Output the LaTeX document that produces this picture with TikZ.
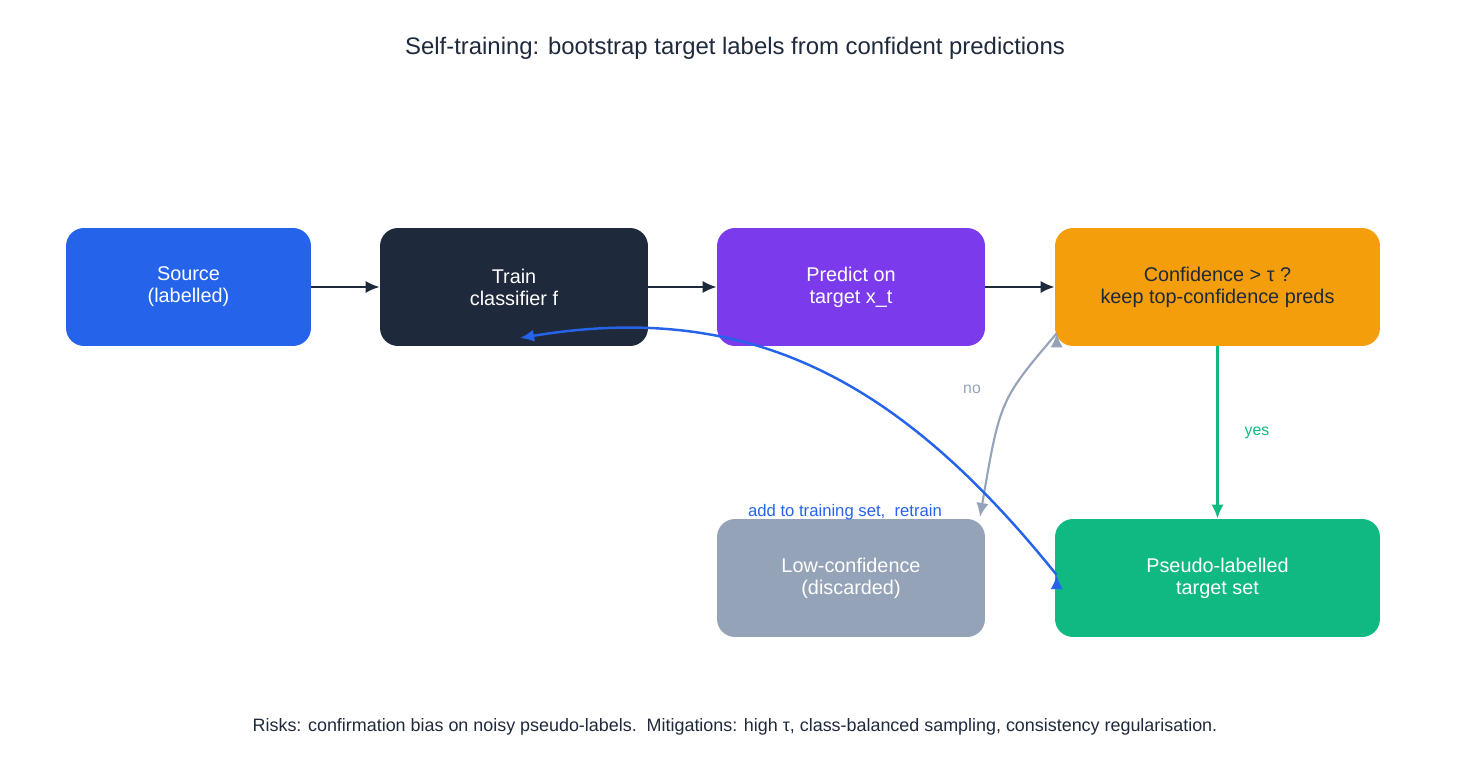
\documentclass[tikz,border=0pt]{standalone}
\usepackage{fontspec}
\setmainfont{Liberation Sans}
\usetikzlibrary{positioning,arrows.meta}
\definecolor{cblue}{HTML}{2563EB}
\definecolor{cdark}{HTML}{1E293B}
\definecolor{cpurple}{HTML}{7C3AED}
\definecolor{corange}{HTML}{F59E0B}
\definecolor{cgray}{HTML}{94A3B8}
\definecolor{cgreen}{HTML}{10B981}
\tikzset{
    stage/.style = {rounded corners=0.36cm, minimum height=2.36cm, align=center,
        font=\fontsize{11.3}{12.5}\selectfont, text=white},
    flow/.style = {-{Latex[length=8pt,width=7pt]}, line width=1.4pt}
}
\begin{document}
\begin{tikzpicture}[x=0.02cm, y=-0.02cm]
    \useasboundingbox (0,0) rectangle (1470,776);

    \node[text=cdark, font=\fontsize{13.6}{15}\selectfont] (title) at (735,48)
        {Self-training: bootstrap target labels from confident predictions};

    \node[stage, fill=cblue, minimum width=4.9cm] (source) at (188.5,287) {Source\\(labelled)};
    \node[stage, fill=cdark, minimum width=5.36cm] (train) at (514,287) {Train\\classifier f};
    \node[stage, fill=cpurple, minimum width=5.36cm] (predict) at (851,287) {Predict on\\target x\_t};
    \node[stage, fill=corange, minimum width=6.5cm, text=cdark] (conf) at (1217.5,287)
        {Confidence > τ ?\\keep top-confidence preds};
    \node[stage, fill=cgray, minimum width=5.36cm] (low) at (851,578) {Low-confidence\\(discarded)};
    \node[stage, fill=cgreen, minimum width=6.5cm] (pseudo) at (1217.5,578) {Pseudo-labelled\\target set};

    \draw[flow, cdark] (source) -- (train);
    \draw[flow, cdark] (train) -- (predict);
    \draw[flow, cdark] (predict) -- (conf);
    \draw[flow, cgreen] (conf) -- node[right=0.4cm, font=\fontsize{9}{10}\selectfont] {yes} (pseudo);
    \draw[flow, cgray] (conf.south west) ++(2,-13) coordinate (nostart);
    \draw[flow, cgray, line width=1.2pt] (nostart) .. controls (1000,400) .. (980,517);
    \node[text=cgray, font=\fontsize{9}{10}\selectfont] (nolbl) at (972,389) {no};
    \draw[flow, cblue] (pseudo.west) ++(2,-3) coordinate (backstart);
    \draw[flow, cblue] (backstart) .. controls (900,380) and (750,300) .. (520,338);
    \node[text=cblue, font=\fontsize{9.5}{10}\selectfont] (backlbl) at (845,512) {add to training set,\ \ retrain};

    \node[text=cdark, font=\fontsize{10.2}{11}\selectfont] (risks) at (735,727)
        {Risks: confirmation bias on noisy pseudo-labels.\ \ Mitigations: high τ, class-balanced sampling, consistency regularisation.};
\end{tikzpicture}
\end{document}
